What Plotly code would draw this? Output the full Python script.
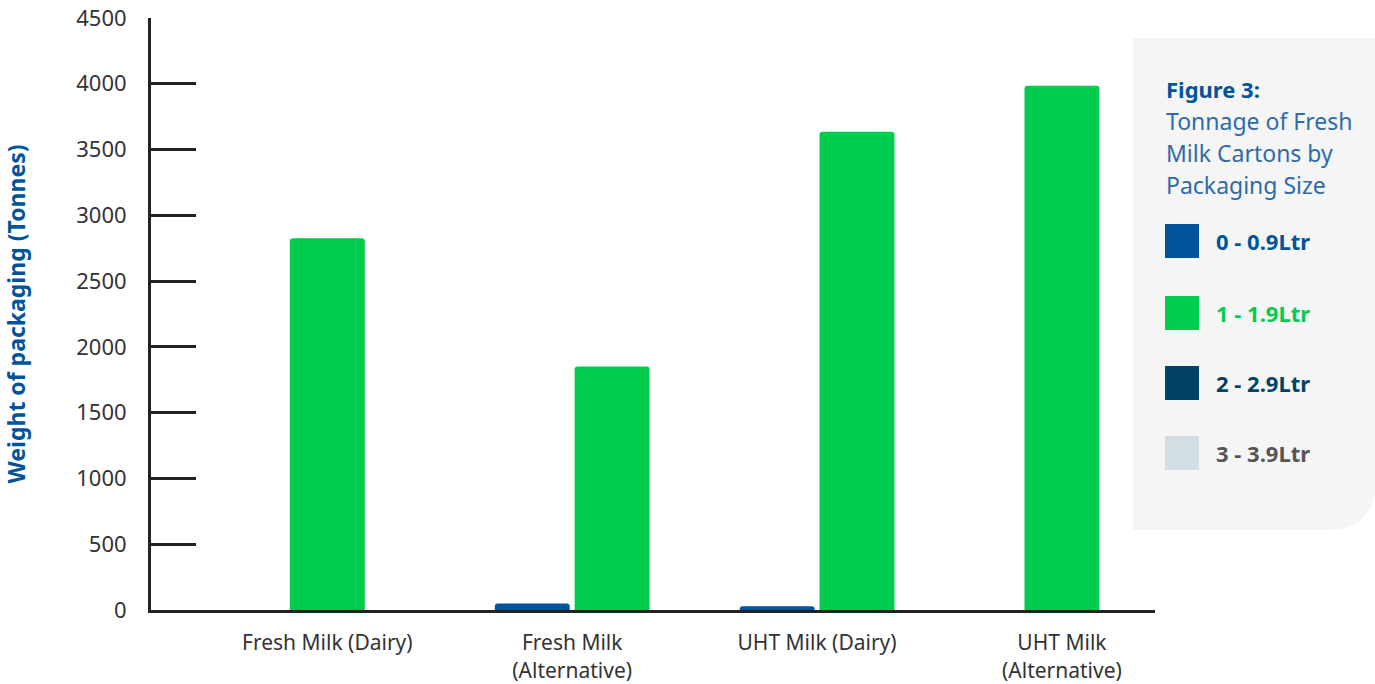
import plotly.graph_objects as go

categories = ["Fresh Milk (Dairy)", "Fresh Milk<br>(Alternative)", "UHT Milk (Dairy)", "UHT Milk<br>(Alternative)"]
series_names = ["0 - 0.9Ltr", "1 - 1.9Ltr", "2 - 2.9Ltr", "3 - 3.9Ltr"]
vals_0_09 = [None, 50, 28, None]
vals_1_19 = [2825, 1850, 3635, 3985]
vals_2_29 = [None, None, None, None]
vals_3_39 = [None, None, None, None]
y_ticks = [0, 500, 1000, 1500, 2000, 2500, 3000, 3500, 4000, 4500]

series_vals = [vals_0_09, vals_1_19, vals_2_29, vals_3_39]
colors = ["#00549A", "#00CC4E", "#004264", "#D3DDE4"]
label_colors = ["#00549A", "#00CC4E", "#004264", "#555555"]

FONT = "Noto Sans"
W, H = 1375, 684
ML, MR, MT, MB = 151, 220, 18, 74
PW, PH = W - ML - MR, H - MT - MB

BAR_W = 0.306
GAP = 0.02

# offsets: skip empty series within each category (centered groups)
offsets = [[None] * len(categories) for _ in series_vals]
for ci in range(len(categories)):
    present = [si for si, s in enumerate(series_vals) if s[ci] not in (None, 0)]
    n = len(present)
    total = n * BAR_W + (n - 1) * GAP if n else 0
    start = -total / 2
    for k, si in enumerate(present):
        offsets[si][ci] = start + k * (BAR_W + GAP)

fig = go.Figure()
for si, (name, vals) in enumerate(zip(series_names, series_vals)):
    offs = [o if o is not None else 0 for o in offsets[si]]
    fig.add_trace(go.Bar(
        x=categories, y=vals, name=name,
        marker=dict(color=colors[si], line=dict(width=0), cornerradius=3),
        offset=offs, width=BAR_W, showlegend=False,
    ))


def px(x):
    return (x - ML) / PW


def py(y):
    return (H - MB - y) / PH


shapes = []
# legend panel with rounded bottom-right corner
x0, x1, y0, y1 = px(1133), px(1376), py(38), py(530)
rx, ry = 50 / PW, 50 / PH
path = (f"M {x0},{y0} L {x1},{y0} L {x1},{y1 + ry} "
        f"Q {x1},{y1} {x1 - rx},{y1} L {x0},{y1} Z")
shapes.append(dict(type="path", path=path, xref="paper", yref="paper",
                   fillcolor="#F5F5F5", line=dict(width=0), layer="below"))

annotations = []
annotations.append(dict(x=px(1164), y=py(89), xref="paper", yref="paper",
                        text="<b>Figure 3:</b>", showarrow=False, xanchor="left",
                        yanchor="middle", font=dict(family=FONT, size=22, color="#00549A")))
for i, line in enumerate(["Tonnage of Fresh", "Milk Cartons by", "Packaging Size"]):
    annotations.append(dict(x=px(1164), y=py(121 + 32 * i), xref="paper", yref="paper",
                            text=line, showarrow=False, xanchor="left", yanchor="middle",
                            font=dict(family=FONT, size=23, color="#2F6BA8")))

item_y = [241, 313, 383, 453]
for i, name in enumerate(series_names):
    yc = item_y[i]
    shapes.append(dict(type="rect", xref="paper", yref="paper",
                       x0=px(1165), x1=px(1199), y0=py(yc + 17), y1=py(yc - 17),
                       fillcolor=colors[i], line=dict(width=0)))
    annotations.append(dict(x=px(1214), y=py(yc), xref="paper", yref="paper",
                            text=f"<b>{name}</b>", showarrow=False, xanchor="left",
                            yanchor="middle",
                            font=dict(family=FONT, size=22, color=label_colors[i])))

fig.update_layout(
    width=W, height=H,
    margin=dict(l=ML, r=MR, t=MT, b=MB, pad=0, autoexpand=False),
    paper_bgcolor="white", plot_bgcolor="white",
    barmode="overlay",
    shapes=shapes, annotations=annotations,
    font=dict(family=FONT, color="#333333"),
    xaxis=dict(
        range=[-0.72, 3.38], showline=True, linecolor="#222222", linewidth=3,
        ticks="", showgrid=False, zeroline=False, automargin=False,
        tickfont=dict(family=FONT, size=21, color="#333333"),
        ticklabelstandoff=12,
    ),
    yaxis=dict(
        range=[0, 4500], tickvals=y_ticks, showline=True, linecolor="#222222",
        linewidth=3, ticks="inside", ticklen=45, tickwidth=2.5, tickcolor="#222222",
        showgrid=False, zeroline=False, automargin=False,
        tickfont=dict(family=FONT, size=22, color="#333333"),
        ticklabelstandoff=17,
        title=dict(text="<b>Weight of packaging (Tonnes)</b>",
                   font=dict(family=FONT, size=23, color="#00549A"), standoff=52),
    ),
)

fig.write_html("out.html")
